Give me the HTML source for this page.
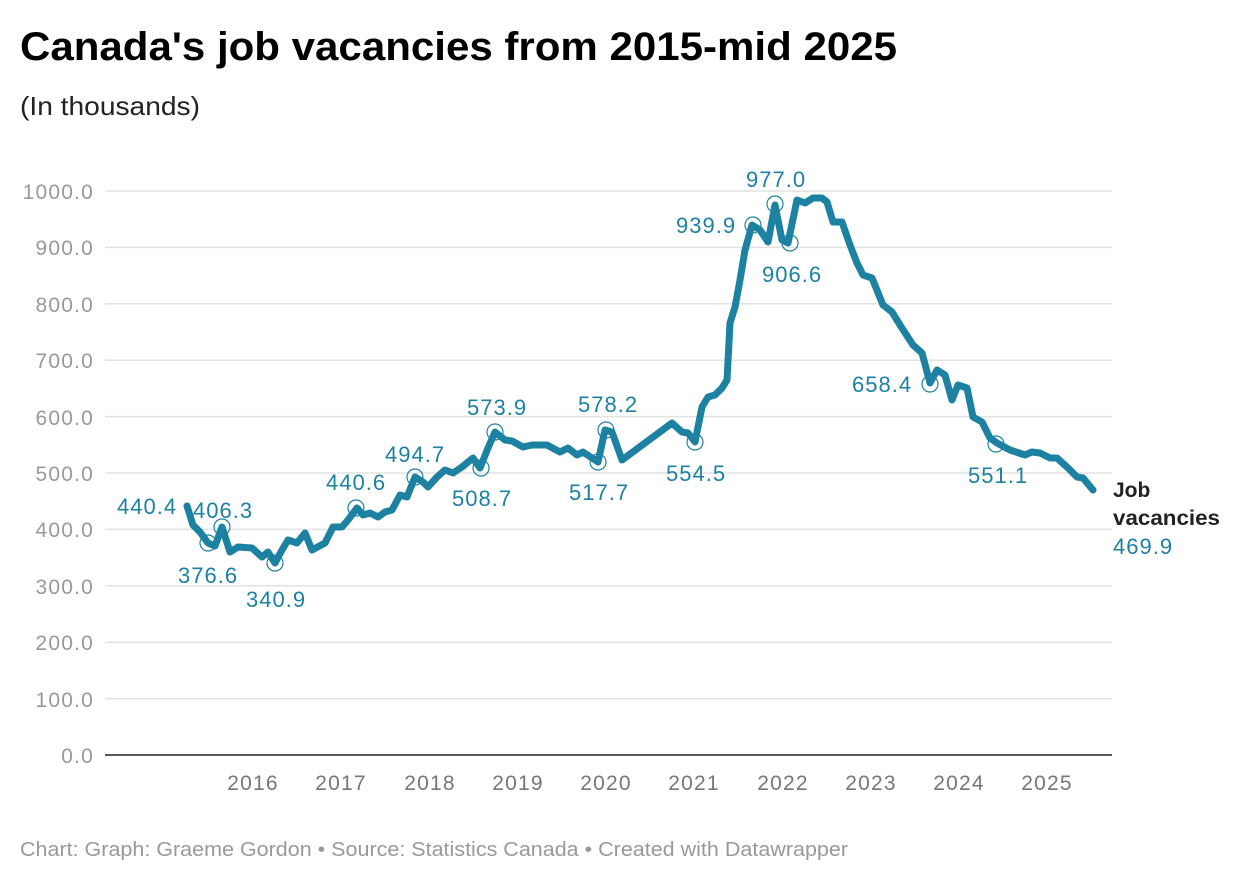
<!DOCTYPE html>
<html><head><meta charset="utf-8"><style>
body{margin:0;background:#fff;width:1240px;height:882px;overflow:hidden;font-family:"Liberation Sans",sans-serif}
</style></head><body>
<svg width="1240" height="882" xmlns="http://www.w3.org/2000/svg" font-family="Liberation Sans, sans-serif">
<text x="20" y="60" font-size="40" font-weight="bold" fill="#000" textLength="877" lengthAdjust="spacingAndGlyphs">Canada's job vacancies from 2015-mid 2025</text>
<text x="20" y="115" font-size="26" fill="#222" textLength="180" lengthAdjust="spacingAndGlyphs">(In thousands)</text>
<g stroke="#e2e2e2" stroke-width="1.5">
<line x1="105" x2="1112" y1="191" y2="191"/><line x1="105" x2="1112" y1="247.4" y2="247.4"/>
<line x1="105" x2="1112" y1="303.8" y2="303.8"/><line x1="105" x2="1112" y1="360.2" y2="360.2"/>
<line x1="105" x2="1112" y1="416.6" y2="416.6"/><line x1="105" x2="1112" y1="473" y2="473"/>
<line x1="105" x2="1112" y1="529.4" y2="529.4"/><line x1="105" x2="1112" y1="585.8" y2="585.8"/>
<line x1="105" x2="1112" y1="642.2" y2="642.2"/><line x1="105" x2="1112" y1="698.6" y2="698.6"/>
</g>
<line x1="105" x2="1112" y1="755" y2="755" stroke="#222" stroke-width="1.5"/>
<g font-size="21" fill="#999" text-anchor="end" letter-spacing="1.2">
<text x="94" y="199">1000.0</text><text x="94" y="255">900.0</text><text x="94" y="312">800.0</text>
<text x="94" y="368">700.0</text><text x="94" y="425">600.0</text><text x="94" y="481">500.0</text>
<text x="94" y="537">400.0</text><text x="94" y="594">300.0</text><text x="94" y="650">200.0</text>
<text x="94" y="707">100.0</text><text x="94" y="763">0.0</text>
</g>
<g font-size="21" fill="#777" text-anchor="middle" letter-spacing="1.2">
<text x="253" y="790">2016</text><text x="341" y="790">2017</text><text x="430" y="790">2018</text>
<text x="518" y="790">2019</text><text x="606" y="790">2020</text><text x="694" y="790">2021</text>
<text x="783" y="790">2022</text><text x="871" y="790">2023</text><text x="959" y="790">2024</text>
<text x="1047" y="790">2025</text>
</g>
<polyline fill="none" stroke="#1d81a2" stroke-width="7" stroke-linejoin="round" stroke-linecap="round" points="187,506 193,525 200,532 208,543 215,546 222,527 230,552 238,547 252,548 262,557 268,552 275,563 282,550 288,540 297,543 305,533 312,550 325,543 333,527 342,527 348,520 357,508 363,515 370,513 378,517 385,512 392,510 400,495 407,497 415,477 423,482 428,487 437,477 445,470 453,473 462,467 473,458 480,468 488,448 495,432 505,440 512,441 523,447 532,445 547,445 560,452 568,448 577,455 583,452 598,462 605,430 612,432 622,460 672,423 682,432 688,433 695,442 702,407 708,397 715,395 722,388 727,380 730,323 735,307 740,280 745,250 752,225 760,230 768,242 775,205 782,240 788,243 797,200 805,203 813,198 822,198 827,202 833,222 842,222 850,245 857,263 863,275 872,278 883,305 892,312 900,325 913,345 922,353 930,383 937,370 945,375 952,400 958,385 967,388 973,417 982,422 990,438 997,443 1010,450 1025,455 1032,452 1040,453 1050,458 1057,458 1068,468 1077,477 1083,478 1093,490"/>
<g fill="none" stroke="#1d81a2" stroke-width="1.2">
<circle cx="208" cy="543" r="8"/><circle cx="222" cy="527" r="8"/><circle cx="275" cy="563" r="8"/>
<circle cx="356" cy="508" r="8"/><circle cx="415" cy="477" r="8"/><circle cx="481" cy="468" r="8"/>
<circle cx="495" cy="432" r="8"/><circle cx="598" cy="462" r="8"/><circle cx="606" cy="430" r="8"/>
<circle cx="695" cy="442" r="8"/><circle cx="753" cy="225" r="8"/><circle cx="775" cy="204" r="8"/>
<circle cx="790" cy="243" r="8"/><circle cx="930" cy="384" r="8"/><circle cx="996" cy="444" r="8"/>
</g>
<g font-size="22" fill="#1d81a2" letter-spacing="1">
<text x="117" y="514">440.4</text><text x="193" y="518">406.3</text><text x="178" y="583">376.6</text>
<text x="246" y="607">340.9</text><text x="326" y="490">440.6</text><text x="385" y="462">494.7</text>
<text x="452" y="506">508.7</text><text x="467" y="415">573.9</text><text x="578" y="412">578.2</text>
<text x="569" y="500">517.7</text><text x="666" y="481">554.5</text><text x="676" y="233">939.9</text>
<text x="746" y="187">977.0</text><text x="762" y="282">906.6</text><text x="852" y="392">658.4</text>
<text x="968" y="483">551.1</text><text x="1113" y="554">469.9</text>
</g>
<text x="1113" y="497" font-size="21" font-weight="bold" fill="#222">Job</text>
<text x="1113" y="525" font-size="21" font-weight="bold" fill="#222" textLength="107" lengthAdjust="spacingAndGlyphs">vacancies</text>
<text x="20" y="856" font-size="20" fill="#999" textLength="828" lengthAdjust="spacingAndGlyphs">Chart: Graph: Graeme Gordon • Source: Statistics Canada • Created with Datawrapper</text>
</svg>
</body></html>
